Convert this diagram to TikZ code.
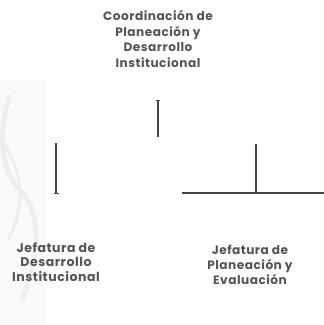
\documentclass[tikz,border=0pt]{standalone}
\usepackage{fontspec}
\setmainfont{Poppins}
\newfontfamily\lblfont{Poppins}[LetterSpace=4]
\definecolor{txt}{HTML}{555555}
\definecolor{ln}{HTML}{444444}
\definecolor{wm}{HTML}{EEEEEE}
\definecolor{wmbg}{HTML}{FAFAFA}
\begin{document}
\begin{tikzpicture}[x=1bp,y=-1bp,
  lbl/.style={align=center,text=txt,inner sep=0pt},
  conn/.style={draw=ln,line width=1.1bp},
  thickconn/.style={draw=ln,line width=2.2bp},
  endtick/.style={draw=ln,line width=0.9bp}]
\useasboundingbox (0,0) rectangle (324,325);
% faint watermark
\fill[wmbg] (0,80) rectangle (45,325);
\draw[wm,line width=5bp] (10,95) .. controls (-2,130) and (0,170) .. (20,190) .. controls (40,210) and (42,250) .. (22,300);
\draw[wm,line width=3bp] (0,140) .. controls (18,160) and (30,200) .. (8,240);
% nodes
\node[lbl,font=\lblfont\bfseries\fontsize{12.2}{15.7}\selectfont] (top) at (158,39) {Coordinación de\\Planeación y\\Desarrollo\\Institucional};
\node[lbl,font=\lblfont\bfseries\fontsize{12.6}{14.6}\selectfont] (jdi) at (56,262) {Jefatura de\\Desarrollo\\Institucional};
\node[lbl,font=\lblfont\bfseries\fontsize{12.2}{15}\selectfont] (jpe) at (250,265) {Jefatura de\\Planeación y\\Evaluación};
% connector coordinates
\coordinate (t1) at (158,100);
\coordinate (t2) at (158,137);
\coordinate (l1) at (56,143);
\coordinate (l2) at (56,193);
\coordinate (r1) at (256,144);
\coordinate (r2) at (256,193);
\coordinate (h1) at (182,193);
\coordinate (h2) at (324,193);
\path[conn] (t1) -- (t2);
\draw[endtick] ([xshift=-2bp]t1) -- ([xshift=2bp]t1);
\path[conn] (l1) -- (l2);
\draw[endtick] ([xshift=-2.5bp]l2) -- ([xshift=2.5bp]l2);
\path[conn,line width=1.6bp] (h1) -- (h2);
\path[thickconn] (r1) -- (r2);
\end{tikzpicture}
\end{document}
